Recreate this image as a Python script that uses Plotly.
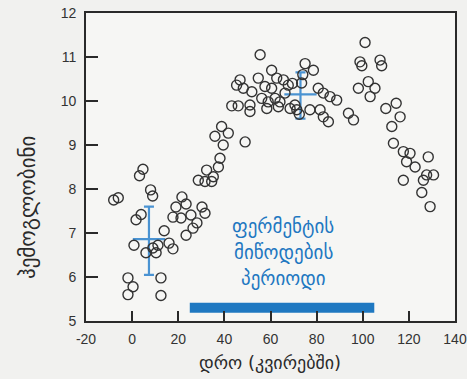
import plotly.graph_objects as go

# Hemoglobin measurements over time (weeks)
time_weeks = [
    -8.0, -6.0, 4.7, 3.2, 8.0, 8.9, 1.7, 3.9, 13.9, 0.8, 9.0, 11.2, 16.0, 17.7,
    6.0, 10.4, -1.8, 12.5, 0.4, -1.8, 12.5,
    21.6, 19.0, 23.4, 17.7, 21.2, 25.5, 26.4, 23.4, 30.3, 31.6, 28.1,
    28.7, 31.6, 34.5, 32.3, 35.2, 37.4, 38.1,
    38.8, 35.9, 41.7, 39.5, 49.0,
    55.5, 46.8, 45.3, 48.2, 51.9, 54.7, 57.6, 60.5, 62.7, 65.6, 67.7, 60.5,
    56.2, 59.0, 62.0, 64.1, 58.4, 63.4, 43.2, 46.0, 51.1, 51.1,
    75.0, 78.6, 74.0, 73.5, 80.7, 82.9, 85.8, 88.7, 70.6, 71.4, 68.5, 77.1,
    81.5, 82.9, 85.1, 93.8, 96.0, 69.5, 66.3, 72.5,
    101.0, 98.8, 99.6, 107.5, 108.2, 98.1, 102.4, 105.3, 103.2,
    110.0, 114.5, 116.2, 112.6, 113.3, 117.6, 120.5, 119.0, 122.7, 128.4,
    117.6, 126.3, 127.7, 130.7, 125.6, 129.2,
]
hemoglobin = [
    7.75, 7.80, 8.45, 8.30, 7.98, 7.84, 7.30, 7.42, 7.05, 6.72, 6.66, 6.72, 6.77, 6.64,
    6.55, 6.55, 5.98, 5.98, 5.78, 5.60, 5.58,
    7.82, 7.59, 7.66, 7.36, 7.34, 7.41, 7.11, 6.95, 7.59, 7.45, 7.23,
    8.20, 8.17, 8.17, 8.43, 8.28, 8.50, 8.70,
    9.42, 9.20, 9.27, 9.00, 9.07,
    11.05, 10.48, 10.36, 10.29, 10.21, 10.52, 10.33, 10.70, 10.52, 10.48, 10.36, 10.29,
    10.06, 9.98, 10.06, 9.98, 9.83, 9.87, 9.89, 9.89, 9.91, 9.76,
    10.85, 10.70, 10.60, 10.41, 10.29, 10.18, 10.10, 10.02, 9.91, 9.80, 9.83, 9.80,
    9.80, 9.64, 9.53, 9.72, 9.57, 10.40, 10.18, 9.70,
    11.33, 10.89, 10.80, 10.93, 10.80, 10.29, 10.44, 10.29, 10.10,
    9.83, 9.95, 9.64, 9.42, 9.04, 8.85, 8.81, 8.62, 8.50, 8.73,
    8.20, 8.20, 8.32, 8.32, 7.92, 7.60,
]

# Group summaries: centre time, mean, lower and upper bounds
group_time = [7.3, 73.0]
group_mean = [6.86, 10.15]
group_low = [6.05, 9.60]
group_high = [7.60, 10.65]
mean_bar_half = 7.0

# Enzyme delivery period (weeks) and the level where the bar sits
enzyme_period = [25, 105]
enzyme_bar_level = 5.3
enzyme_label = ["ფერმენტის", "მიწოდების", "პერიოდი"]
enzyme_label_x = 65.5
enzyme_label_y = [7.15, 6.56, 5.97]

x_ticks = [-20, 0, 20, 40, 60, 80, 100, 120, 140]
y_ticks = [5, 6, 7, 8, 9, 10, 11, 12]

BLUE = "#1f78c1"
ERR_BLUE = "#4a93d2"
INK = "#2a2a2a"

fig = go.Figure()

# Error bars for the two groups
fig.add_trace(go.Scatter(
    x=group_time, y=group_mean, mode="markers",
    marker=dict(size=1, color="rgba(0,0,0,0)"),
    error_y=dict(
        type="data", symmetric=False,
        array=[h - m for h, m in zip(group_high, group_mean)],
        arrayminus=[m - l for m, l in zip(group_mean, group_low)],
        color=ERR_BLUE, thickness=2.2, width=5,
    ),
    hoverinfo="skip", showlegend=False,
))
for gx, gm in zip(group_time, group_mean):
    fig.add_trace(go.Scatter(
        x=[gx - mean_bar_half, gx + mean_bar_half], y=[gm, gm], mode="lines",
        line=dict(color=ERR_BLUE, width=2.4),
        hoverinfo="skip", showlegend=False,
    ))

# Individual measurements
fig.add_trace(go.Scatter(
    x=time_weeks, y=hemoglobin, mode="markers",
    marker=dict(symbol="circle-open", size=10, color="#333333",
                line=dict(width=1.4, color="#333333")),
    showlegend=False,
))

# Enzyme delivery bar
fig.add_trace(go.Scatter(
    x=enzyme_period, y=[enzyme_bar_level, enzyme_bar_level], mode="lines",
    line=dict(color=BLUE, width=10),
    hoverinfo="skip", showlegend=False,
))

for line_text, ly in zip(enzyme_label, enzyme_label_y):
    fig.add_annotation(
        x=enzyme_label_x, y=ly, xref="x", yref="y", text=line_text,
        showarrow=False, font=dict(family="DejaVu Sans", size=19, color=BLUE),
    )

# Axis titles as annotations in paper coordinates
fig.add_annotation(
    x=(28 - 86) / 369, y=(321 - 208) / 308, xref="paper", yref="paper",
    xanchor="center", yanchor="middle",
    text="ჰემოგლობინი", showarrow=False, textangle=-90,
    font=dict(family="DejaVu Sans", size=21, color=INK),
)
fig.add_annotation(
    x=(270 - 86) / 369, y=(321 - 363) / 308, xref="paper", yref="paper",
    xanchor="center", yanchor="middle",
    text="დრო (კვირებში)", showarrow=False,
    font=dict(family="DejaVu Sans", size=18, color=INK),
)

axis_common = dict(
    showgrid=False, zeroline=False, showline=True, linecolor=INK, linewidth=1.6,
    mirror=True, ticks="inside", tickcolor=INK, tickwidth=1.6, automargin=False,
    tickfont=dict(family="Liberation Sans", size=14, color="#333333"),
)

fig.update_xaxes(
    range=[-20, 140], tickvals=x_ticks, ticktext=[str(v) for v in x_ticks],
    ticklen=10, ticklabelstandoff=4, **axis_common,
)
fig.update_yaxes(
    range=[5, 12], tickvals=y_ticks, ticktext=[str(v) for v in y_ticks],
    ticklen=12, ticklabelstandoff=5, **axis_common,
)

fig.update_layout(
    width=467, height=379,
    margin=dict(l=86, r=12, t=13, b=58),
    paper_bgcolor="#f1f1ef", plot_bgcolor="#f6f6f4",
    showlegend=False,
)

fig.write_html("out.html")
